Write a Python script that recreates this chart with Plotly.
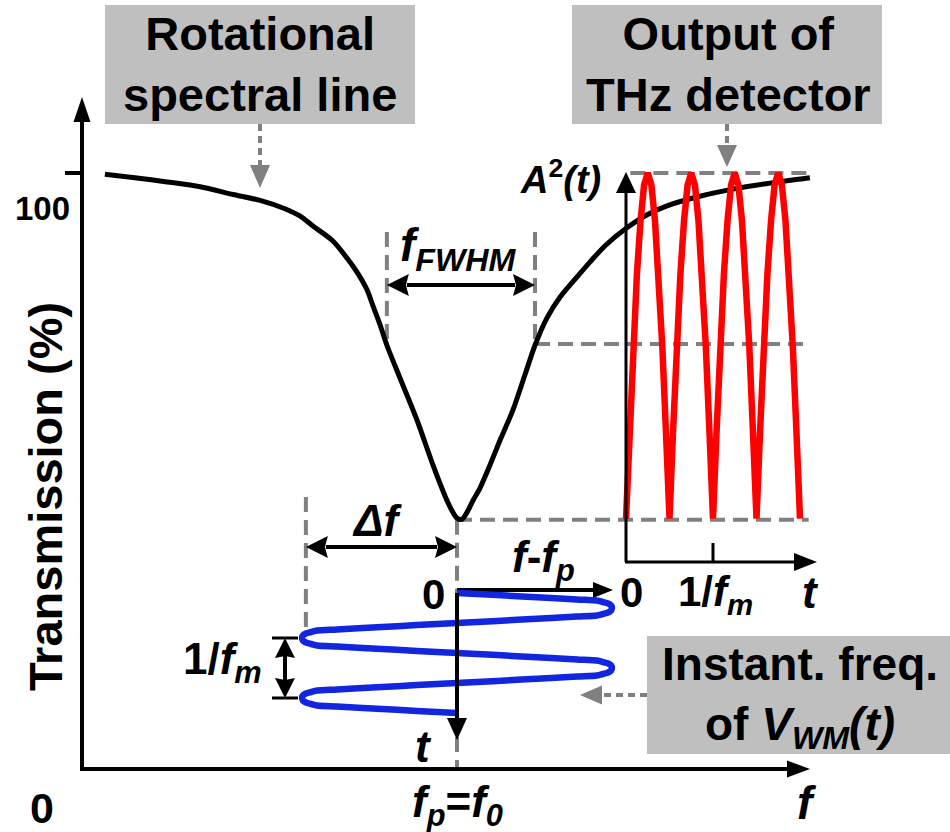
import math
import plotly.graph_objects as go

# ---------------------------------------------------------------- data
# Transmission of the rotational spectral line, frequency normalised to f0
dip_f = [0.061, 0.141, 0.227, 0.315, 0.403, 0.475, 0.541, 0.581, 0.616, 0.669,
         0.707, 0.733, 0.760, 0.776, 0.795, 0.813, 0.848, 0.893, 0.936, 0.973,
         0.987, 1.000, 1.013, 1.027, 1.043, 1.061, 1.088, 1.115, 1.149, 1.181,
         1.208, 1.240, 1.275, 1.315, 1.355, 1.395, 1.453, 1.507, 1.560, 1.648,
         1.736, 1.835, 1.941]
dip_T = [99.8, 99.2, 98.5, 97.7, 96.4, 95.4, 94.0, 92.8, 91.1, 88.6,
         85.7, 83.4, 80.4, 77.7, 74.5, 71.1, 65.6, 58.6, 51.0, 45.1,
         43.3, 42.1, 41.9, 43.1, 45.1, 47.1, 51.0, 55.2, 60.2, 66.1,
         71.1, 75.7, 79.2, 82.2, 85.1, 87.8, 90.8, 93.0, 94.5, 96.1,
         97.3, 98.3, 99.2]

# Output of the THz detector A^2(t) on the transmission scale, t in units of 1/fm
out_t = [0.000, 0.042, 0.083, 0.125, 0.167, 0.208, 0.250, 0.292, 0.333, 0.375,
         0.417, 0.458, 0.500, 0.542, 0.583, 0.625, 0.667, 0.708, 0.750, 0.792,
         0.833, 0.875, 0.917, 0.958, 1.000, 1.042, 1.083, 1.125, 1.167, 1.208,
         1.250, 1.292, 1.333, 1.375, 1.417, 1.458, 1.500, 1.542, 1.583, 1.625,
         1.667, 1.708, 1.750, 1.792, 1.833, 1.875, 1.917, 1.958, 2.000]
out_A2 = [42, 57, 71, 83, 92, 98, 100, 98, 92, 83, 71, 57,
          42, 57, 71, 83, 92, 98, 100, 98, 92, 83, 71, 57,
          42, 57, 71, 83, 92, 98, 100, 98, 92, 83, 71, 57,
          42, 57, 71, 83, 92, 98, 100, 98, 92, 83, 71, 57,
          42]

# Instantaneous frequency of V_WM(t): f/f0 against t (units of 1/fm)
wm_f = [1.000, 1.107, 1.213, 1.320, 1.373, 1.389, 1.403, 1.411, 1.413,
        1.411, 1.403, 1.389, 1.373, 1.320, 1.213, 1.107, 1.000,
        0.893, 0.787, 0.680, 0.627, 0.611, 0.597, 0.589, 0.587,
        0.589, 0.597, 0.611, 0.627, 0.680, 0.787, 0.893, 1.000,
        1.107, 1.213, 1.320, 1.373, 1.389, 1.403, 1.411, 1.413,
        1.411, 1.403, 1.389, 1.373, 1.320, 1.213, 1.107, 1.000,
        0.893, 0.787, 0.680, 0.627, 0.611, 0.597, 0.589, 0.587,
        0.589, 0.597, 0.611, 0.627, 0.680, 0.787, 0.893, 1.000]
wm_t = [0.000, 0.035, 0.070, 0.107, 0.125, 0.150, 0.175, 0.208, 0.250,
        0.292, 0.325, 0.350, 0.375, 0.393, 0.430, 0.465, 0.500,
        0.535, 0.570, 0.607, 0.625, 0.650, 0.675, 0.708, 0.750,
        0.792, 0.825, 0.850, 0.875, 0.893, 0.930, 0.965, 1.000,
        1.035, 1.070, 1.107, 1.125, 1.150, 1.175, 1.208, 1.250,
        1.292, 1.325, 1.350, 1.375, 1.393, 1.430, 1.465, 1.500,
        1.535, 1.570, 1.607, 1.625, 1.650, 1.675, 1.708, 1.750,
        1.792, 1.825, 1.850, 1.875, 1.893, 1.930, 1.965, 2.000]

T_TOP = 100.0           # 100 % level / peak of A^2
T_MIN = 41.8            # transmission at line centre
T_HALF = 71.3           # half maximum
F_FWHM = [0.813, 1.208] # half-maximum crossings
F_P = 1.0               # f_p = f_0
F_LEFT = 0.597          # f_p - delta f
Y_TICKS = [100]

# ---------------------------------------------------------------- layout
W, H = 950, 832
FX0, FXS = 82, 375      # main frequency axis
TY0, TYS = 769, 5.96    # transmission axis
IX0, IXS = 626, 87      # time axis of the detector inset
SY0, SYS = 593, 60      # time axis of the frequency sweep

FONT = "Arial, Liberation Sans, sans-serif"
GRAY_BOX = "#bfbfbf"
GRAY = "#808080"
RED = "#ff0000"
BLUE = "#1226e0"


def fx(f):
    return FX0 + FXS * f


def ty(T):
    return TY0 - TYS * T


def ix(t):
    return IX0 + IXS * t


def sy(t):
    return SY0 + SYS * t


fig = go.Figure()


def P(x, y):
    return x / W, 1 - y / H


def seg(x0, y0, x1, y1, color="black", width=4, dash=None, layer="above"):
    a, b = P(x0, y0)
    c, d = P(x1, y1)
    fig.add_shape(type="line", xref="paper", yref="paper", x0=a, y0=b, x1=c, y1=d,
                  line=dict(color=color, width=width, dash=dash), layer=layer)


def head(tx, tyy, ux, uy, L, Wd, color, notch=0, layer="above"):
    nx, ny = -uy, ux
    bx, by = tx - L * ux, tyy - L * uy
    pts = [(tx, tyy), (bx + nx * Wd / 2, by + ny * Wd / 2),
           (bx + notch * ux, by + notch * uy), (bx - nx * Wd / 2, by - ny * Wd / 2)]
    path = "M " + " L ".join("%.5f,%.5f" % P(x, y) for x, y in pts) + " Z"
    fig.add_shape(type="path", xref="paper", yref="paper", path=path,
                  fillcolor=color, line=dict(width=0), layer=layer)


def arrow(x0, y0, x1, y1, color="black", width=4, L=22, Wd=18, both=False,
          notch=0, dash=None, layer="above"):
    d = math.hypot(x1 - x0, y1 - y0)
    ux, uy = (x1 - x0) / d, (y1 - y0) / d
    sx, sy_ = x0, y0
    if both:
        sx, sy_ = x0 + (L - 2) * ux, y0 + (L - 2) * uy
        head(x0, y0, -ux, -uy, L, Wd, color, notch, layer)
    seg(sx, sy_, x1 - (L - 2) * ux, y1 - (L - 2) * uy, color, width, dash, layer)
    head(x1, y1, ux, uy, L, Wd, color, notch, layer)


def box(x0, y0, x1, y1):
    a, b = P(x0, y0)
    c, d = P(x1, y1)
    fig.add_shape(type="rect", xref="paper", yref="paper", x0=a, y0=d, x1=c, y1=b,
                  fillcolor=GRAY_BOX, line=dict(width=0), layer="below")


def label(text, x, y, size, angle=0):
    a, b = P(x, y)
    fig.add_annotation(text=text, x=a, y=b, xref="paper", yref="paper",
                       showarrow=False, xanchor="center", yanchor="middle",
                       textangle=angle,
                       font=dict(family=FONT, size=size, color="black", weight="bold"))


DASH = "15px,8px"

# callout boxes
box(105, 5, 415, 124)
box(572, 5, 882, 124)
box(647, 636, 950, 754)

# guide lines
for f in F_FWHM:
    seg(fx(f), 232, fx(f), ty(T_HALF), GRAY, 4, DASH, "below")
seg(fx(F_FWHM[1]), ty(T_HALF), ix(2.1), ty(T_HALF), GRAY, 4, DASH, "below")
seg(ix(0.05), ty(T_TOP), ix(2.1), ty(T_TOP), GRAY, 4, DASH, "below")
seg(fx(F_P), ty(T_MIN), ix(2.1), ty(T_MIN), GRAY, 4, DASH, "below")
seg(fx(F_P), ty(T_MIN), fx(F_P), sy(0), GRAY, 4, DASH, "below")
seg(fx(F_P), sy(2.4), fx(F_P), ty(0), GRAY, 4, DASH, "below")
seg(fx(F_LEFT), 497, fx(F_LEFT), 630, GRAY, 4, DASH, "below")

# callout pointers
arrow(260, 124, 260, 188, GRAY, 4, 23, 20, dash="7px,5px", layer="below")
arrow(727, 124, 727, 167, GRAY, 4, 22, 20, dash="7px,5px", layer="below")
arrow(647, 695, 580, 695, GRAY, 4, 22, 19, dash="7px,5px", layer="below")

# main axes
arrow(fx(0), ty(0) + 2, fx(0), 97, "black", 4, 25, 17)
arrow(fx(0) - 2, ty(0), 810, ty(0), "black", 4, 23, 17)
for T in Y_TICKS:
    seg(fx(0) - 17, ty(T), fx(0), ty(T), "black", 4)

# detector inset axes
arrow(ix(0), ty(0) - 207, ix(0), 172, "black", 3, 21, 20)
arrow(ix(0) - 1, ty(0) - 207, 817, ty(0) - 207, "black", 3, 23, 18)
seg(ix(1), ty(0) - 226, ix(1), ty(0) - 207, "black", 3)

# frequency sweep axes
arrow(fx(F_P), sy(0), fx(F_P), sy(2.45), "black", 4, 22, 20)
arrow(fx(F_P), sy(0) - 3, fx(1.416), sy(0) - 3, "black", 4, 20, 16, layer="below")

# double arrows
arrow(fx(F_LEFT), 547, fx(F_P), 547, "black", 4, 22, 22, both=True, notch=3)
arrow(fx(F_FWHM[0]), 285, fx(F_FWHM[1]), 285, "black", 4, 22, 22, both=True, notch=3)
arrow(285, sy(0.75), 285, sy(1.75), "black", 4, 20, 20, both=True, notch=2)
seg(272, sy(0.75), 298, sy(0.75), "black", 3)
seg(272, sy(1.75), 298, sy(1.75), "black", 3)

# traces
fig.add_trace(go.Scatter(x=out_t, y=out_A2, xaxis="x2", yaxis="y", mode="lines",
                         line=dict(color=RED, width=6.5), hoverinfo="skip"))
fig.add_trace(go.Scatter(x=wm_f, y=wm_t, xaxis="x", yaxis="y2", mode="lines",
                         line=dict(color=BLUE, width=6.5, shape="spline", smoothing=0.8),
                         hoverinfo="skip"))
fig.add_trace(go.Scatter(x=dip_f, y=dip_T, xaxis="x", yaxis="y", mode="lines",
                         line=dict(color="black", width=5, shape="spline", smoothing=0.8),
                         hoverinfo="skip"))

# text
label("Rotational<br>spectral line", 260, 64, 47)
label("Output of<br>THz detector", 728, 64, 47)
label("Instant. freq.<br>of <i>V</i><sub><i>WM</i></sub><i>(t)</i>", 800, 697, 46)
label("100", 42, 208, 33)
label("Transmission (%)", 45, 497, 47, angle=-90)
label("0", 42, 808, 43)
label("<i>f</i><sub><i>p</i></sub>=<i>f</i><sub><i>0</i></sub>", fx(F_P), 805, 44)
label("<i>f</i>", 807, 803, 46)
label("<i>f</i><sub><i>FWHM</i></sub>", 458, 248, 46)
label("<i>Δf</i>", 377, 520, 44)
label("<i>A</i><sup>2</sup><i>(t)</i>", 560, 177, 38)
label("0", 433, 594, 42)
label("<i>t</i>", 423, 746, 44)
label("<i>f</i>-<i>f</i><sub><i>p</i></sub>", 543, 560, 44)
label("1/<i>f</i><sub><i>m</i></sub>", 222, 662, 44)
label("0", 631, 592, 42)
label("1/<i>f</i><sub><i>m</i></sub>", 715, 594, 42)
label("<i>t</i>", 810, 592, 44)

fig.update_layout(
    width=W, height=H, margin=dict(l=0, r=0, t=0, b=0), autosize=False,
    paper_bgcolor="white", plot_bgcolor="white", showlegend=False,
    xaxis=dict(range=[-FX0 / FXS, (W - FX0) / FXS], domain=[0, 1], visible=False),
    yaxis=dict(range=[(TY0 - H) / TYS, TY0 / TYS], domain=[0, 1], visible=False),
    xaxis2=dict(range=[-IX0 / IXS, (W - IX0) / IXS], overlaying="x", anchor="y",
                visible=False),
    yaxis2=dict(range=[(H - SY0) / SYS, -SY0 / SYS], overlaying="y", anchor="x",
                visible=False),
)

fig.write_html("out.html", config={"displayModeBar": False})
